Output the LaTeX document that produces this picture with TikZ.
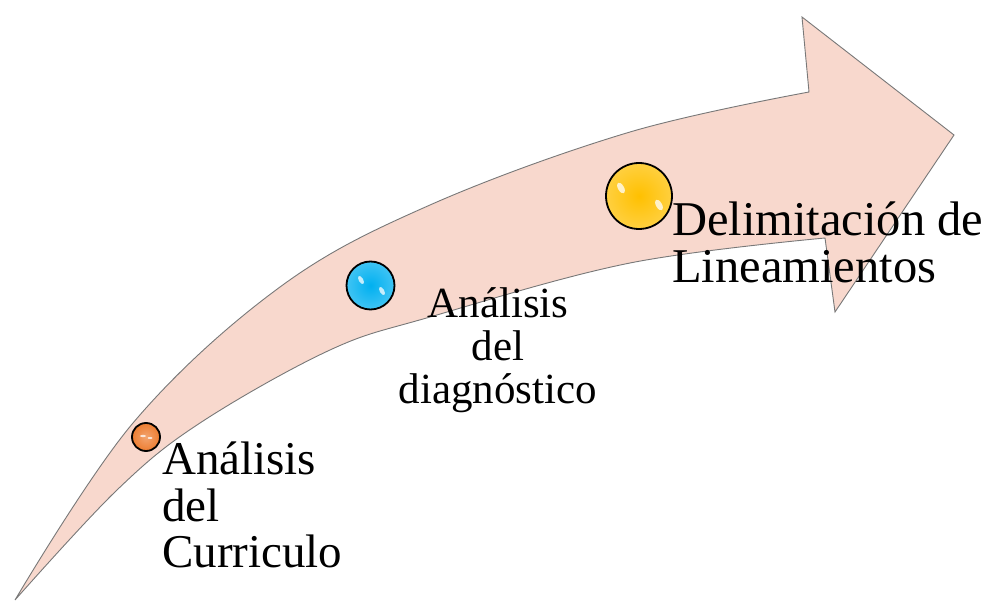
\documentclass[tikz,border=0pt]{standalone}
\usepackage{fontspec}
\setmainfont{Liberation Serif}
\definecolor{arrowfill}{RGB}{248,216,205}
\definecolor{arrowline}{RGB}{120,120,120}
\definecolor{ballblue}{RGB}{0,176,240}
\definecolor{ballyellow}{RGB}{255,192,0}
\definecolor{ballorange}{RGB}{237,125,49}
\tikzset{
  ballnode/.style={circle, draw=black, line width=1.8pt, inner sep=0pt},
  bigtext/.style={inner sep=0pt, font=\fontsize{47}{47}\selectfont},
  bigtextb/.style={inner sep=0pt, font=\fontsize{48.5}{47}\selectfont},
  midtext/.style={inner sep=0pt, font=\fontsize{43}{43}\selectfont},
  hl/.style={fill=white, opacity=0.75}
}
\begin{document}
\begin{tikzpicture}[x=1pt,y=-1pt]
\useasboundingbox (0,0) rectangle (986,601);
% curved arrow
\draw[fill=arrowfill, draw=arrowline, line width=0.9pt, line join=miter]
  plot[smooth, tension=0.6] coordinates {(15,600) (133,423) (280,287) (430,205) (630,132) (809,92)}
  -- (802,17) -- (954,135) -- (835,312) -- (825,238)
  -- plot[smooth, tension=0.6] coordinates {(825,238) (630,263) (430,317) (330,350) (200,423) (117,490) (15,600)}
  -- cycle;
% balls
\shade[inner color=ballorange!70!white, outer color=ballorange] (146,437) circle (14);
\node[ballnode, minimum size=28pt] (b1) at (146,437) {};
\fill[hl] (143,436) ellipse (3 and 1.2);
\fill[hl] (150,438) ellipse (2.5 and 1);
\shade[inner color=ballblue, outer color=ballblue!75!white] (370.5,285.5) circle (24);
\node[ballnode, minimum size=48pt] (b2) at (370.5,285.5) {};
\fill[hl, rotate around={-60:(361,280)}] (361,280) ellipse (4.5 and 2.2);
\fill[hl, rotate around={-60:(382,291)}] (382,291) ellipse (4.5 and 2.2);
\shade[inner color=ballyellow, outer color=ballyellow!75!white] (639,196) circle (33);
\node[ballnode, minimum size=66pt] (b3) at (639,196) {};
\fill[hl, rotate around={-60:(621,188)}] (621,188) ellipse (6 and 3);
\fill[hl, rotate around={-60:(659,205)}] (659,205) ellipse (6 and 3);
% labels
\node[bigtext, anchor=base west, align=left] (t1) at (162,568) {Análisis\\del\\Curriculo};
\node[midtext, anchor=base, align=center] (t2) at (498,404) {Análisis\\del\\diagnóstico};
\node[bigtextb, anchor=base west, align=left] (t3) at (672,283) {Delimitación de\\Lineamientos};
\end{tikzpicture}
\end{document}
